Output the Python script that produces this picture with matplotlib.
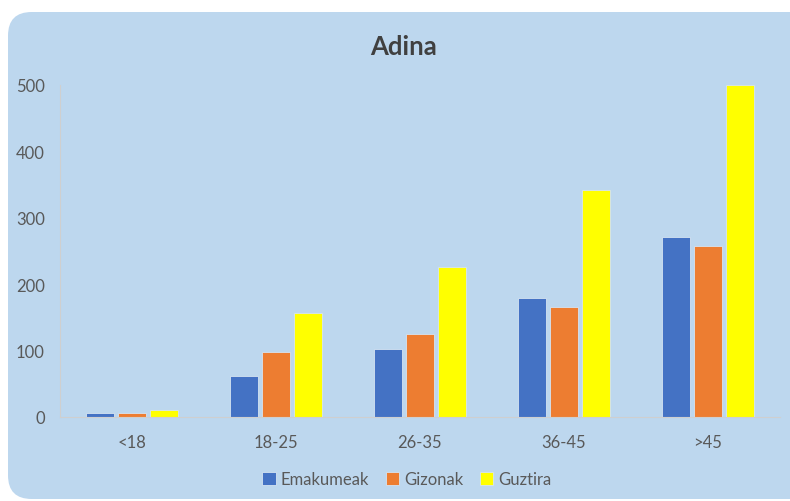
import matplotlib
matplotlib.use("Agg")
import matplotlib.pyplot as plt
import numpy as np
from matplotlib.patches import FancyBboxPatch

categories = ["<18", "18-25", "26-35", "36-45", ">45"]
emakumeak = [6, 62, 102, 179, 271]
gizonak = [6, 98, 125, 166, 258]
guztira = [10, 157, 226, 342, 500]
series_names = ["Emakumeak", "Gizonak", "Guztira"]
colors = ["#4472C4", "#ED7D31", "#FFFF00"]
yticks = [0, 100, 200, 300, 400, 500]

plt.rcParams['font.family'] = ['Lato', 'DejaVu Sans']
W, H = 790, 502
fig = plt.figure(figsize=(W / 100, H / 100), dpi=100)
fig.patch.set_facecolor("white")

bg = FancyBboxPatch((8 / W, 2 / H), (W + 30 - 8) / W, (H - 13 - 2) / H,
                    boxstyle="round,pad=0,rounding_size=0.03",
                    transform=fig.transFigure, facecolor="#BDD7EE",
                    edgecolor="none", zorder=-10, mutation_aspect=W / H)
fig.patches.append(bg)

ax = fig.add_axes([60 / W, 1 - 418 / H, 720 / W, (418 - 86) / H])
ax.set_facecolor("none")
x = np.arange(len(categories))
bw = 0.2
gap = 0.022
for i, (vals, name, c) in enumerate(zip([emakumeak, gizonak, guztira], series_names, colors)):
    ax.bar(x + (i - 1) * (bw + gap), vals, width=bw, color=c, label=name, zorder=2,
           edgecolor="#D6E4F2", linewidth=0.6)

ax.set_xlim(-0.5, len(categories) - 0.5)
ax.set_ylim(0, 500)
ax.set_yticks(yticks)
ax.set_xticks(x)
ax.set_xticklabels(categories)
for s in ["top", "right"]:
    ax.spines[s].set_visible(False)
ax.spines["left"].set_color("#CFCFCF")
ax.spines["bottom"].set_color("#CFCFCF")
ax.spines["left"].set_linewidth(0.8)
ax.spines["bottom"].set_linewidth(0.8)
ax.tick_params(axis="both", length=0, labelsize=12, colors="#595959")
ax.tick_params(axis="y", pad=11)
ax.tick_params(axis="x", pad=12)

fig.text(404 / W, 1 - 47 / H, "Adina", ha="center", va="center",
         fontsize=18.5, fontweight="bold", color="#404040")

leg = fig.legend(loc="center", bbox_to_anchor=(407 / W, 1 - 480 / H), ncol=3,
                 frameon=False, fontsize=12, handlelength=0.8, handleheight=0.8,
                 handletextpad=0.3, columnspacing=1.0)
for t in leg.get_texts():
    t.set_color("#595959")

fig.savefig("out.png", dpi=100, facecolor=fig.get_facecolor())
